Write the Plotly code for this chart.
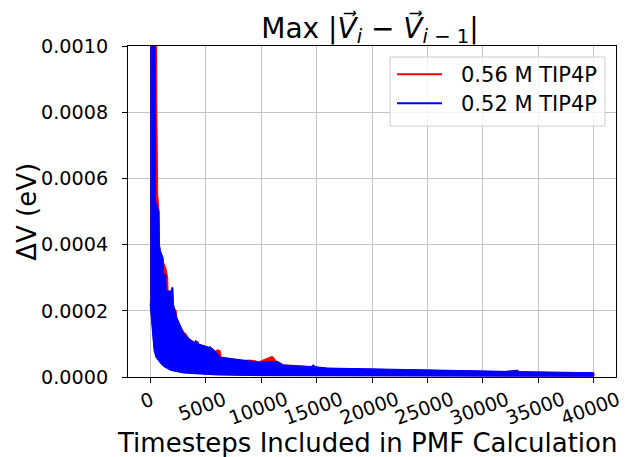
import plotly.graph_objects as go

# ---------------- data ----------------
x_ticks = [0, 5000, 10000, 15000, 20000, 25000, 30000, 35000, 40000]
x_tick_labels = ["0", "5000", "10000", "15000", "20000", "25000", "30000", "35000", "40000"]
y_ticks = [0.0, 0.0002, 0.0004, 0.0006, 0.0008, 0.0010]
y_tick_labels = ["0.0000", "0.0002", "0.0004", "0.0006", "0.0008", "0.0010"]

series_names = ["0.56 M TIP4P", "0.52 M TIP4P"]
series_colors = ["#ff0000", "#0000ff"]

# 0.56 M TIP4P (red) - upper envelope of the oscillating max |dV|
red_t_upper = [0, 570, 600, 640, 680, 800, 840, 1150, 1400, 1580, 1620, 1850, 1900, 2100, 2350,
               2400, 2750, 3050, 3200, 3500, 4000, 4300, 4450, 4700, 5300, 5800, 6100, 6300,
               6400, 6800, 7500, 8300, 9000, 9300, 9800, 10950, 11100, 11300, 11700, 12000,
               13500, 14500, 16000, 20000, 24000, 28000, 32000, 33100, 33300, 36000, 40000]
red_upper = [0.0012, 0.0011, 0.00080, 0.00065, 0.00055, 0.00050, 0.00038, 0.00035, 0.00033,
             0.00030, 0.00025, 0.00023, 0.00020, 0.00021, 0.00020, 0.00017, 0.00015, 0.000135,
             0.000132, 0.000115, 0.000104, 0.000108, 0.000092, 0.000096, 0.000088, 0.000078,
             0.000082, 0.000080, 0.000060, 0.000058, 0.000055, 0.000050, 0.000051, 0.000050,
             0.000046, 0.000062, 0.000060, 0.000050, 0.000043, 0.000037, 0.000034, 0.000032,
             0.000026, 0.000023, 0.000020, 0.000018, 0.000016, 0.000021, 0.000016, 0.000014,
             0.000012]
red_t_lower = [0, 100, 215, 350, 510, 960, 1300, 1860, 3000, 6000, 10000, 20000, 40000]
red_lower = [0.00023, 0.00017, 0.00014, 0.00009, 0.00007, 0.000045, 0.000035, 0.000025,
             0.000015, 0.000008, 0.000005, 0.000004, 0.000003]

# 0.52 M TIP4P (blue)
blue_t_upper = [0, 440, 480, 790, 830, 940, 1170, 1200, 1400, 1450, 1900, 1950, 2050, 2100,
                2400, 2750, 3050, 3500, 4000, 4100, 4200, 4720, 5300, 5400, 5800, 6300, 6800,
                7500, 8300, 9800, 11000, 11600, 12000, 13500, 14500, 14700, 14900, 16000,
                20000, 24000, 28000, 32000, 33100, 33300, 36000, 40000]
blue_upper = [0.0012, 0.0011, 0.00053, 0.00050, 0.00040, 0.00038, 0.00036, 0.00031, 0.00031,
              0.00026, 0.00026, 0.00027, 0.00027, 0.00022, 0.00018, 0.00015, 0.00013, 0.000116,
              0.000104, 0.000112, 0.000102, 0.000096, 0.000090, 0.000092, 0.000080, 0.000060,
              0.000058, 0.000054, 0.000050, 0.000045, 0.000047, 0.000045, 0.000036, 0.000033,
              0.000031, 0.000037, 0.000031, 0.000027, 0.000024, 0.000021, 0.000019, 0.000017,
              0.000020, 0.000016, 0.000015, 0.000013]
blue_t_lower = [0, 100, 215, 350, 510, 960, 1300, 1860, 3000, 6000, 10000, 20000, 40000]
blue_lower = [0.00022, 0.00016, 0.00013, 0.00008, 0.00006, 0.00004, 0.00003, 0.00002,
              0.000012, 0.000006, 0.000004, 0.000003, 0.000002]

# ---------------- figure ----------------
FONT = "DejaVu Sans"
TICK_SIZE = 19.2
LABEL_SIZE = 26
LEGEND_SIZE = 21
fig = go.Figure()

bands = [
    (red_t_upper, red_upper, red_t_lower, red_lower),
    (blue_t_upper, blue_upper, blue_t_lower, blue_lower),
]
for (tu, up, tl, lo), name, col in zip(bands, series_names, series_colors):
    fig.add_trace(go.Scatter(
        x=list(tu) + list(tl)[::-1],
        y=list(up) + list(lo)[::-1],
        mode="lines", fill="toself", fillcolor=col,
        line=dict(color=col, width=1),
        name=name, showlegend=False, hoverinfo="skip",
    ))

axis_common = dict(
    showline=True, linecolor="black", linewidth=1, mirror=True,
    ticks="outside", ticklen=5, tickwidth=1, tickcolor="black",
    showgrid=True, gridcolor="#c4c4c4", gridwidth=1, zeroline=False,
)

fig.update_xaxes(range=[-2000, 42000], tickvals=x_ticks, showticklabels=False, **axis_common)
fig.update_yaxes(range=[0, 0.001], tickvals=y_ticks, ticktext=y_tick_labels,
                 tickfont=dict(family=FONT, size=TICK_SIZE, color="black"),
                 ticklabelstandoff=10, **axis_common)

# rotated x tick labels (centered like matplotlib)
for v, lab in zip(x_ticks, x_tick_labels):
    fig.add_annotation(x=v, y=0, xref="x", yref="paper", text=lab, showarrow=False,
                       textangle=-20, xanchor="center", yanchor="top", yshift=-8, xshift=-3,
                       font=dict(family=FONT, size=TICK_SIZE, color="black"))

fig.add_annotation(x=0.49, y=-0.199, xref="paper", yref="paper",
                   text="Timesteps Included in PMF Calculation", showarrow=False,
                   xanchor="center", yanchor="middle",
                   font=dict(family=FONT, size=LABEL_SIZE, color="black"))
fig.add_annotation(x=-0.2085, y=0.5, xref="paper", yref="paper",
                   text="ΔV (eV)", showarrow=False, textangle=-90,
                   xanchor="center", yanchor="middle",
                   font=dict(family=FONT, size=LABEL_SIZE, color="black"))

# legend drawn in matplotlib style (box, 45px line samples, labels)
L, R, T, B = 128, 616, 46, 377
px = lambda v: (v - L) / (R - L)
py = lambda v: (B - v) / (B - T)
fig.add_shape(type="rect", xref="paper", yref="paper",
              x0=px(390), x1=px(605), y0=py(126), y1=py(57),
              fillcolor="rgba(255,255,255,0.8)", line=dict(color="#cccccc", width=1), layer="above")
for name, col, yy in zip(series_names, series_colors, [74.3, 103.3]):
    fig.add_shape(type="line", xref="paper", yref="paper",
                  x0=px(397), x1=px(442), y0=py(yy), y1=py(yy),
                  line=dict(color=col, width=2), layer="above")
    fig.add_annotation(x=px(459), y=py(yy + 1), xref="paper", yref="paper", text=name,
                       showarrow=False, xanchor="left", yanchor="middle",
                       font=dict(family=FONT, size=LEGEND_SIZE, color="black"))

fig.update_layout(
    width=629, height=457,
    margin=dict(l=L, r=629 - R, t=T, b=457 - B),
    paper_bgcolor="white", plot_bgcolor="white",
    title=dict(text="Max |<i>V⃗</i><sub><i>i</i></sub> − <i>V⃗</i><sub><i>i</i> − 1</sub>|",
               x=370 / 629, xanchor="center", xref="container",
               y=1 - 37.5 / 457, yanchor="bottom", yref="container",
               font=dict(family=FONT, size=28, color="black")),
    showlegend=False,
)

fig.write_html("out.html", config={"displayModeBar": False},
               post_script="document.body.style.margin='0';")
